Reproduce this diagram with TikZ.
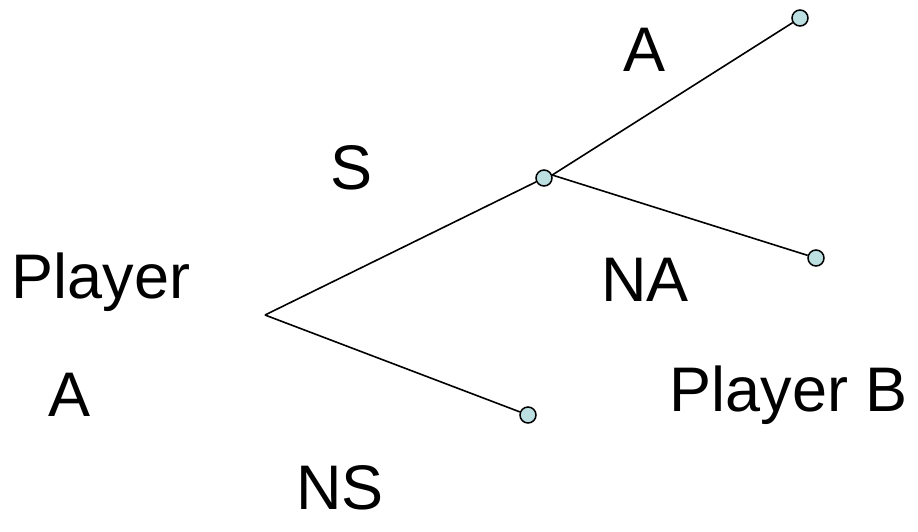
\documentclass[tikz,border=0pt]{standalone}
\usepackage{fontspec}
\setmainfont{Liberation Sans}
\begin{document}
\begin{tikzpicture}[x=1pt,y=-1pt,
  leaf/.style={circle,draw=black,line width=1.5pt,fill=nodefill,minimum size=16pt,inner sep=0pt},
  lbl/.style={font=\fontsize{63}{68}\selectfont,inner sep=0pt},
  edge/.style={line width=1.6pt}]
  \useasboundingbox (0,0) rectangle (918,531);
  \definecolor{nodefill}{RGB}{188,224,226}
  \coordinate (root) at (265,315);
  \node[leaf] (s) at (544,178) {};
  \node[leaf] (a) at (800,18) {};
  \node[leaf] (na) at (816,258) {};
  \node[leaf] (ns) at (528,415) {};
  \draw[edge] (root) -- (s);
  \draw[edge] (root) -- (ns);
  \draw[edge] (s.20) -- (a);
  \draw[edge] (s.20) -- (na);
  \node[lbl] at (101,282) {Player};
  \node[lbl] at (70,395) {A};
  \node[lbl] at (352,168) {S};
  \node[lbl] at (340,488) {NS};
  \node[lbl] at (645,50) {A};
  \node[lbl] at (645,280) {NA};
  \node[lbl] at (789,395) {Player B};
\end{tikzpicture}
\end{document}
